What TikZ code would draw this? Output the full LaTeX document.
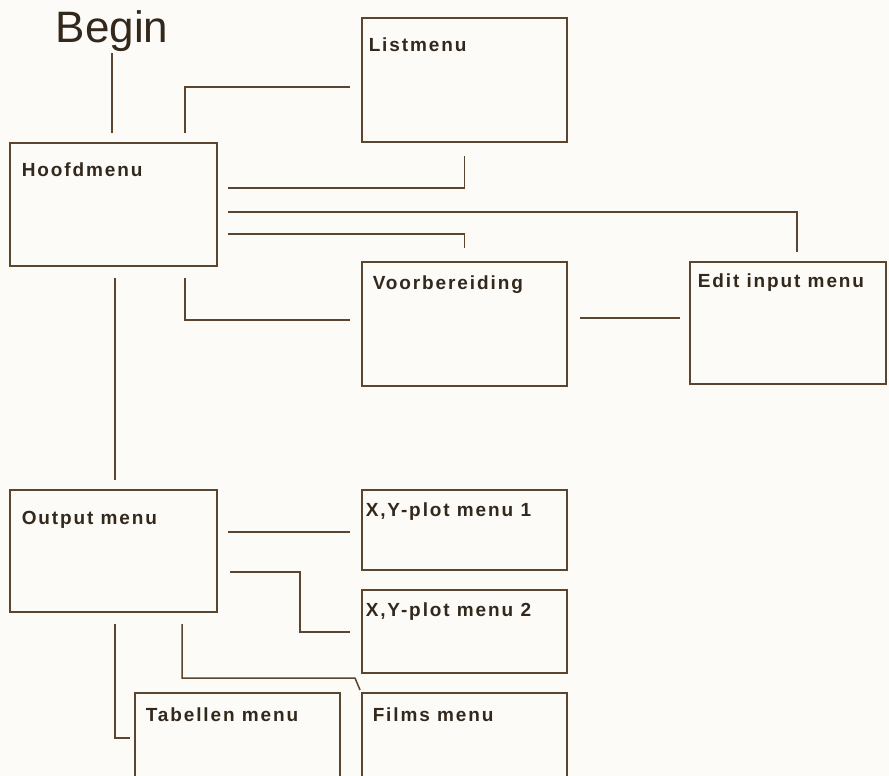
\documentclass[tikz,border=0pt]{standalone}
\usepackage{fontspec}
\setmainfont{Liberation Sans}
\newfontfamily\boxfont[LetterSpace=10]{Liberation Sans}
\usetikzlibrary{calc}
\definecolor{linebrown}{HTML}{5A4530}
\definecolor{inkbrown}{HTML}{33281C}
\definecolor{paper}{HTML}{FCFBF8}

\begin{document}
\begin{tikzpicture}[x=1pt, y=-1pt, line width=1.5pt, color=linebrown,
  menubox/.style={draw, inner sep=0pt, outer sep=0pt, minimum width=205pt, minimum height=124pt},
  menutext/.style={anchor=north west, inner sep=0pt, text height=13.6pt, text=inkbrown,
    font=\boxfont\bfseries\fontsize{19}{19}\selectfont}]
  \useasboundingbox (0,0) rectangle (889,776);
  \fill[paper] (0,0) rectangle (889,776);
  \clip (0,0) rectangle (889,776);

  % start label
  \node[anchor=base, inner sep=0pt, text=inkbrown, font=\fontsize{44}{44}\selectfont] (begin) at (112,43) {Begin};

  % menu boxes
  \node[menubox, minimum width=207pt, minimum height=123pt] (hoofd) at (113.5,204.5) {};
  \node[menubox] (list) at (464.5,80) {};
  \node[menubox] (voorb) at (464.5,324) {};
  \node[menubox, minimum width=196pt, minimum height=122pt] (edit) at (788,323) {};
  \node[menubox, minimum width=207pt, minimum height=122pt] (output) at (113.5,551) {};
  \node[menubox, minimum height=80pt] (xy1) at (464.5,530) {};
  \node[menubox, minimum height=83pt] (xy2) at (464.5,631.5) {};
  \node[menubox, minimum height=110pt] (tab) at (237.5,748) {};
  \node[menubox, minimum height=110pt] (films) at (464.5,748) {};

  % box titles
  \node[menutext] (hoofd-t) at ([shift={(11,19)}]hoofd.north west) {Hoofdmenu};
  \node[menutext] (list-t) at ([shift={(6,19)}]list.north west) {Listmenu};
  \node[menutext] (voorb-t) at ([shift={(10,13)}]voorb.north west) {Voorbereiding};
  \node[menutext] (edit-t) at ([shift={(7,11)}]edit.north west) {Edit input menu};
  \node[menutext] (output-t) at ([shift={(11,20)}]output.north west) {Output menu};
  \node[menutext] (xy1-t) at ([shift={(3,12)}]xy1.north west) {X,Y-plot menu 1};
  \node[menutext] (xy2-t) at ([shift={(3,12)}]xy2.north west) {X,Y-plot menu 2};
  \node[menutext] (tab-t) at ([shift={(10,14)}]tab.north west) {Tabellen menu};
  \node[menutext] (films-t) at ([shift={(10,14)}]films.north west) {Films menu};

  % connectors
  \draw (begin.south) -- ($(begin.south |- hoofd.north)+(0,-10)$);
  \draw ($(hoofd.north)+(71.5,-10)$) |- ($(list.west)+(-12,7)$);
  \draw ($(hoofd.east)+(11,-16.5)$) -| ($(list.south)+(0,14)$);
  \draw ($(hoofd.east)+(11,7.5)$) -| ($(edit.north)+(9,-10)$);
  \draw ($(hoofd.east)+(11,29.5)$) -| ($(voorb.north)+(0,-14)$);
  \draw ($(hoofd.south)+(71.5,12)$) |- ($(voorb.west)+(-12,-4)$);
  \draw ($(voorb.east)+(13,-6)$) -- ($(voorb.east -| edit.west)+(-10,-6)$);
  \draw ($(hoofd.south)+(1.5,12)$) -- ($(output.north)+(1.5,-10)$);
  \draw ($(output.east)+(11,-19)$) -- ($(xy1.west)+(-12,2)$);
  \draw ($(output.east)+(13,21)$) -| ($(xy2.west)+(-62,0.5)$) -- ($(xy2.west)+(-12,0.5)$);
  \draw ($(output.south)+(68.5,12)$) |- ($(films.north west)+(-7,-15)$) -- ($(films.north west)+(-2,-3)$);
  \draw ($(output.south)+(1.5,12)$) |- ($(tab.north west)+(-5,45)$);
\end{tikzpicture}
\end{document}
